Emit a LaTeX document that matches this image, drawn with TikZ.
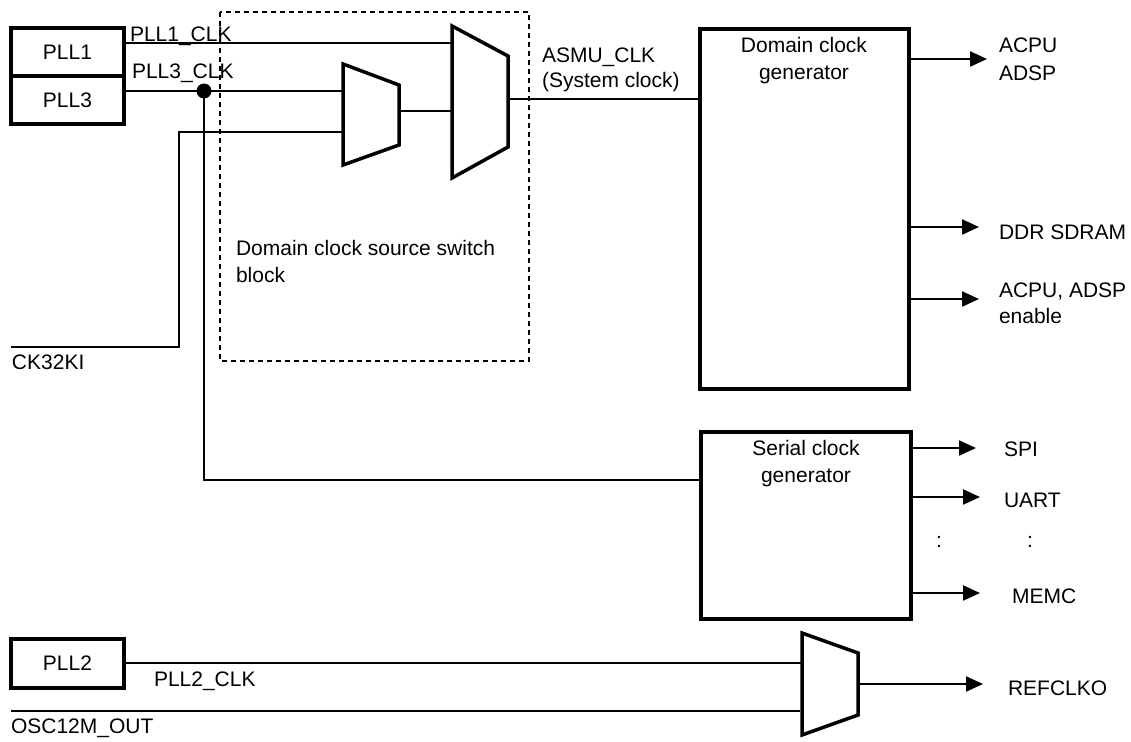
\documentclass[tikz,border=0pt]{standalone}
\usepackage{fontspec}
\setmainfont{Liberation Sans}
\usetikzlibrary{arrows.meta}
\begin{document}
\begin{tikzpicture}[x=1pt,y=-1pt,
  every node/.style={font=\fontsize{21}{25}\selectfont, inner sep=0pt, outer sep=0pt},
  blk/.style={draw, line width=3.5pt, anchor=north west},
  mux/.style={draw, line width=3.5pt, line join=miter},
  wire/.style={line width=2pt},
  sig/.style={line width=2.2pt, -{Triangle[length=17pt,width=15pt]}},
  lbl/.style={anchor=base west},
  clbl/.style={anchor=base},
  dot/.style={circle, fill, minimum size=15pt},
  grp/.style={draw, dash pattern=on 5pt off 4pt, line width=1.2pt}]
\useasboundingbox (0,0) rectangle (1131,741);

% dashed group
\draw[grp] (220,12) rectangle (529,361);
\node[lbl] (grpl1) at (236,255) {Domain clock source switch};
\node[lbl] (grpl2) at (236,282) {block};

% source boxes
\node[blk, minimum width=113pt, minimum height=48pt] (pll1) at (11,28) {};
\node (pll1t) at (pll1.center) {PLL1};
\node[blk, minimum width=113pt, minimum height=48pt] (pll3) at (11,76) {};
\node (pll3t) at (pll3.center) {PLL3};
\node[blk, minimum width=113pt, minimum height=49pt] (pll2) at (11,639) {};
\node (pll2t) at (pll2.center) {PLL2};

% generators
\node[blk, minimum width=209pt, minimum height=360pt] (dg) at (700,29) {};
\node[clbl] (dgt1) at (804,53) {Domain clock};
\node[clbl] (dgt2) at (804,80) {generator};
\node[blk, minimum width=210pt, minimum height=187pt] (sg) at (701,432) {};
\node[clbl] (sgt1) at (806,455) {Serial clock};
\node[clbl] (sgt2) at (806,482) {generator};

% multiplexers
\draw[mux] (343,64) -- (399,85) -- (399,145) -- (343,165) -- cycle;
\draw[mux] (452,26) -- (508,56) -- (508,147) -- (452,178) -- cycle;
\draw[mux] (802,633) -- (858,653) -- (858,715) -- (802,735) -- cycle;

\coordinate (m1a) at (343,91);
\coordinate (m1b) at (343,132);
\coordinate (m1o) at (399,111);
\coordinate (m2a) at (452,43);
\coordinate (m2b) at (452,111);
\coordinate (m2o) at (508,99);
\coordinate (m3a) at (802,663);
\coordinate (m3b) at (800,711);
\coordinate (m3o) at (858,684);
\coordinate (ck) at (11,347);
\coordinate (ckb) at (179,132);
\coordinate (osc) at (11,711);
\coordinate (sgin) at (701,480);

% wires
\draw[wire] (pll1.east |- m2a) -- (m2a);
\draw[wire] (pll3.east |- m1a) -- (m1a);
\node[dot] (j) at (204,91) {};
\draw[wire] (j.center) |- (sgin);
\draw[wire] (ck) -| (ckb) -- (m1b);
\draw[wire] (m1o) -- (m2b);
\draw[wire] (m2o) -- (dg.west |- m2o);
\draw[wire] (pll2.east |- m3a) -- (m3a);
\draw[wire] (osc) -- (m3b);

\node[lbl] (l1) at (130,42) {PLL1\_CLK};
\node[lbl] (l3) at (132,79) {PLL3\_CLK};
\node[lbl] (lck) at (12,369) {CK32KI};
\node[lbl] (la1) at (542,63) {ASMU\_CLK};
\node[lbl] (la2) at (542,88) {(System clock)};
\node[lbl] (l2) at (154,686) {PLL2\_CLK};
\node[lbl] (losc) at (11,733) {OSC12M\_OUT};

% outputs of domain clock generator
\coordinate (o1) at (987,59);
\coordinate (o2) at (979,227);
\coordinate (o3) at (979,299);
\draw[sig] (dg.east |- o1) -- (o1);
\draw[sig] (dg.east |- o2) -- (o2);
\draw[sig] (dg.east |- o3) -- (o3);
\node[lbl] (t1a) at (999,53) {ACPU};
\node[lbl] (t1b) at (999,81) {ADSP};
\node[lbl] (t2) at (999,239) {DDR SDRAM};
\node[lbl] (t3a) at (999,297) {ACPU, ADSP};
\node[lbl] (t3b) at (999,323) {enable};

% outputs of serial clock generator
\coordinate (s1) at (976,448);
\coordinate (s2) at (980,497);
\coordinate (s3) at (980,593);
\draw[sig] (sg.east |- s1) -- (s1);
\draw[sig] (sg.east |- s2) -- (s2);
\draw[sig] (sg.east |- s3) -- (s3);
\node[lbl] (u1) at (1004,456) {SPI};
\node[lbl] (u2) at (1004,507) {UART};
\node[clbl] (c1) at (939,547) {:};
\node[clbl] (c2) at (1030,547) {:};
\node[lbl] (u3) at (1012,603) {MEMC};

% REFCLKO
\coordinate (r1) at (983,684);
\draw[sig] (m3o) -- (r1);
\node[lbl] (rt) at (1008,695) {REFCLKO};
\end{tikzpicture}
\end{document}
